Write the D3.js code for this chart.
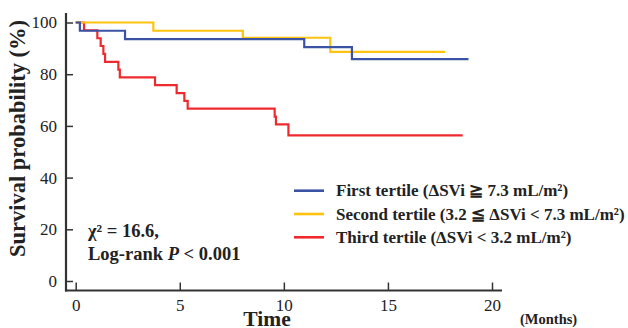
<!DOCTYPE html>
<html>
<head>
<meta charset="utf-8">
<script src="https://cdn.jsdelivr.net/npm/d3@7"></script>
<style>
  body { margin: 0; background: #fff; }
  text { font-family: "Liberation Serif", "Times New Roman", serif; fill: #222; }
</style>
</head>
<body>
<div id="chart"></div>
<script>
// Kaplan-Meier step data (time in months, survival %)
const firstTimes  = [0, 0.2, 2.37, 10.98, 13.27, 18.87];
const firstVals   = [100, 96.8, 93.6, 90.5, 85.8, 85.8];
const secondTimes = [0, 3.73, 8.03, 12.23, 17.75];
const secondVals  = [100, 96.8, 94.1, 88.6, 88.6];
const thirdTimes  = [0, 0.4, 1.04, 1.2, 1.33, 1.41, 2.05, 2.12, 3.81, 4.85, 5.22, 5.38, 9.56, 9.62, 10.22, 18.59];
const thirdVals   = [100, 97.0, 93.9, 90.9, 87.9, 84.8, 81.8, 78.8, 75.8, 72.7, 69.7, 66.7, 63.6, 60.6, 56.3, 56.3];

const seriesNames  = ["First tertile (ΔSVi ≧ 7.3 mL/m²)", "Second tertile (3.2 ≦ ΔSVi < 7.3 mL/m²)", "Third tertile (ΔSVi < 3.2 mL/m²)"];
const seriesColors = ["#3a53a4", "#ffc20e", "#ee2a2e"];
const xTicks = [0, 5, 10, 15, 20];
const yTicks = [0, 20, 40, 60, 80, 100];

const width = 628, height = 328;

const svg = d3.select('#chart')
    .append('svg')
    .attr('width', width)
    .attr('height', height);

const x = d3.scaleLinear().domain([0, 20]).range([75.7, 492]);
const y = d3.scaleLinear().domain([0, 100]).range([281, 22.5]);

const axisX = 66, axisY = 290.5;

// y axis
const yAxis = svg.append('g')
    .attr('transform', 'translate(' + axisX + ',0)')
    .call(d3.axisLeft(y).tickValues(yTicks).tickSizeInner(-7).tickSizeOuter(0).tickPadding(9));
yAxis.select('.domain').remove();
yAxis.selectAll('line').attr('stroke', '#333').attr('stroke-width', 1.5);
yAxis.selectAll('text').style('font-size', '17px').attr('fill', '#222');

// x axis
const xAxis = svg.append('g')
    .attr('transform', 'translate(0,' + axisY + ')')
    .call(d3.axisBottom(x).tickValues(xTicks).tickSizeInner(-8).tickSizeOuter(0).tickPadding(8));
xAxis.select('.domain').remove();
xAxis.selectAll('line').attr('stroke', '#333').attr('stroke-width', 1.5);
xAxis.selectAll('text').style('font-size', '17px').attr('fill', '#222');

// axis lines
svg.append('line')
    .attr('x1', axisX).attr('x2', axisX)
    .attr('y1', 13).attr('y2', axisY + 1)
    .attr('stroke', '#333').attr('stroke-width', 2.2);
svg.append('line')
    .attr('x1', axisX - 1).attr('x2', 502)
    .attr('y1', axisY).attr('y2', axisY)
    .attr('stroke', '#333').attr('stroke-width', 2.2);

// curves
const line = d3.line()
    .x(d => x(d[0]))
    .y(d => y(d[1]))
    .curve(d3.curveStepAfter);

const curves = [
    d3.zip(firstTimes, firstVals),
    d3.zip(secondTimes, secondVals),
    d3.zip(thirdTimes, thirdVals)
];

// draw third, second, then first on top
[2, 1, 0].forEach(i => {
    svg.append('path')
        .datum(curves[i])
        .attr('d', line)
        .attr('fill', 'none')
        .attr('stroke', seriesColors[i])
        .attr('stroke-width', 2.2);
});

// legend
const legend = svg.append('g');
seriesNames.forEach((name, i) => {
    const ly = 190.7 + i * 23.3;
    legend.append('line')
        .attr('x1', 294).attr('x2', 324)
        .attr('y1', ly).attr('y2', ly)
        .attr('stroke', seriesColors[i])
        .attr('stroke-width', 2.6);
    legend.append('text')
        .attr('x', 336).attr('y', ly + 5.5)
        .style('font-size', '17px')
        .style('font-weight', 'bold')
        .text(name);
});

// statistics
svg.append('text')
    .attr('x', 88).attr('y', 237)
    .style('font-size', '18.5px')
    .style('font-weight', 'bold')
    .text('χ² = 16.6,');
const lr = svg.append('text')
    .attr('x', 88).attr('y', 259.5)
    .style('font-size', '18.5px')
    .style('font-weight', 'bold');
lr.append('tspan').text('Log-rank ');
lr.append('tspan').style('font-style', 'italic').text('P');
lr.append('tspan').text(' < 0.001');

// axis titles
svg.append('text')
    .attr('transform', 'translate(25,' + 138.5 + ') rotate(-90)')
    .attr('text-anchor', 'middle')
    .style('font-size', '22.5px')
    .style('font-weight', 'bold')
    .text('Survival probability (%)');

svg.append('text')
    .attr('x', 267).attr('y', 326)
    .attr('text-anchor', 'middle')
    .style('font-size', '21.5px')
    .style('font-weight', 'bold')
    .text('Time');

svg.append('text')
    .attr('x', 520).attr('y', 324)
    .style('font-size', '14.5px')
    .style('font-weight', 'bold')
    .text('(Months)');
</script>
</body>
</html>
